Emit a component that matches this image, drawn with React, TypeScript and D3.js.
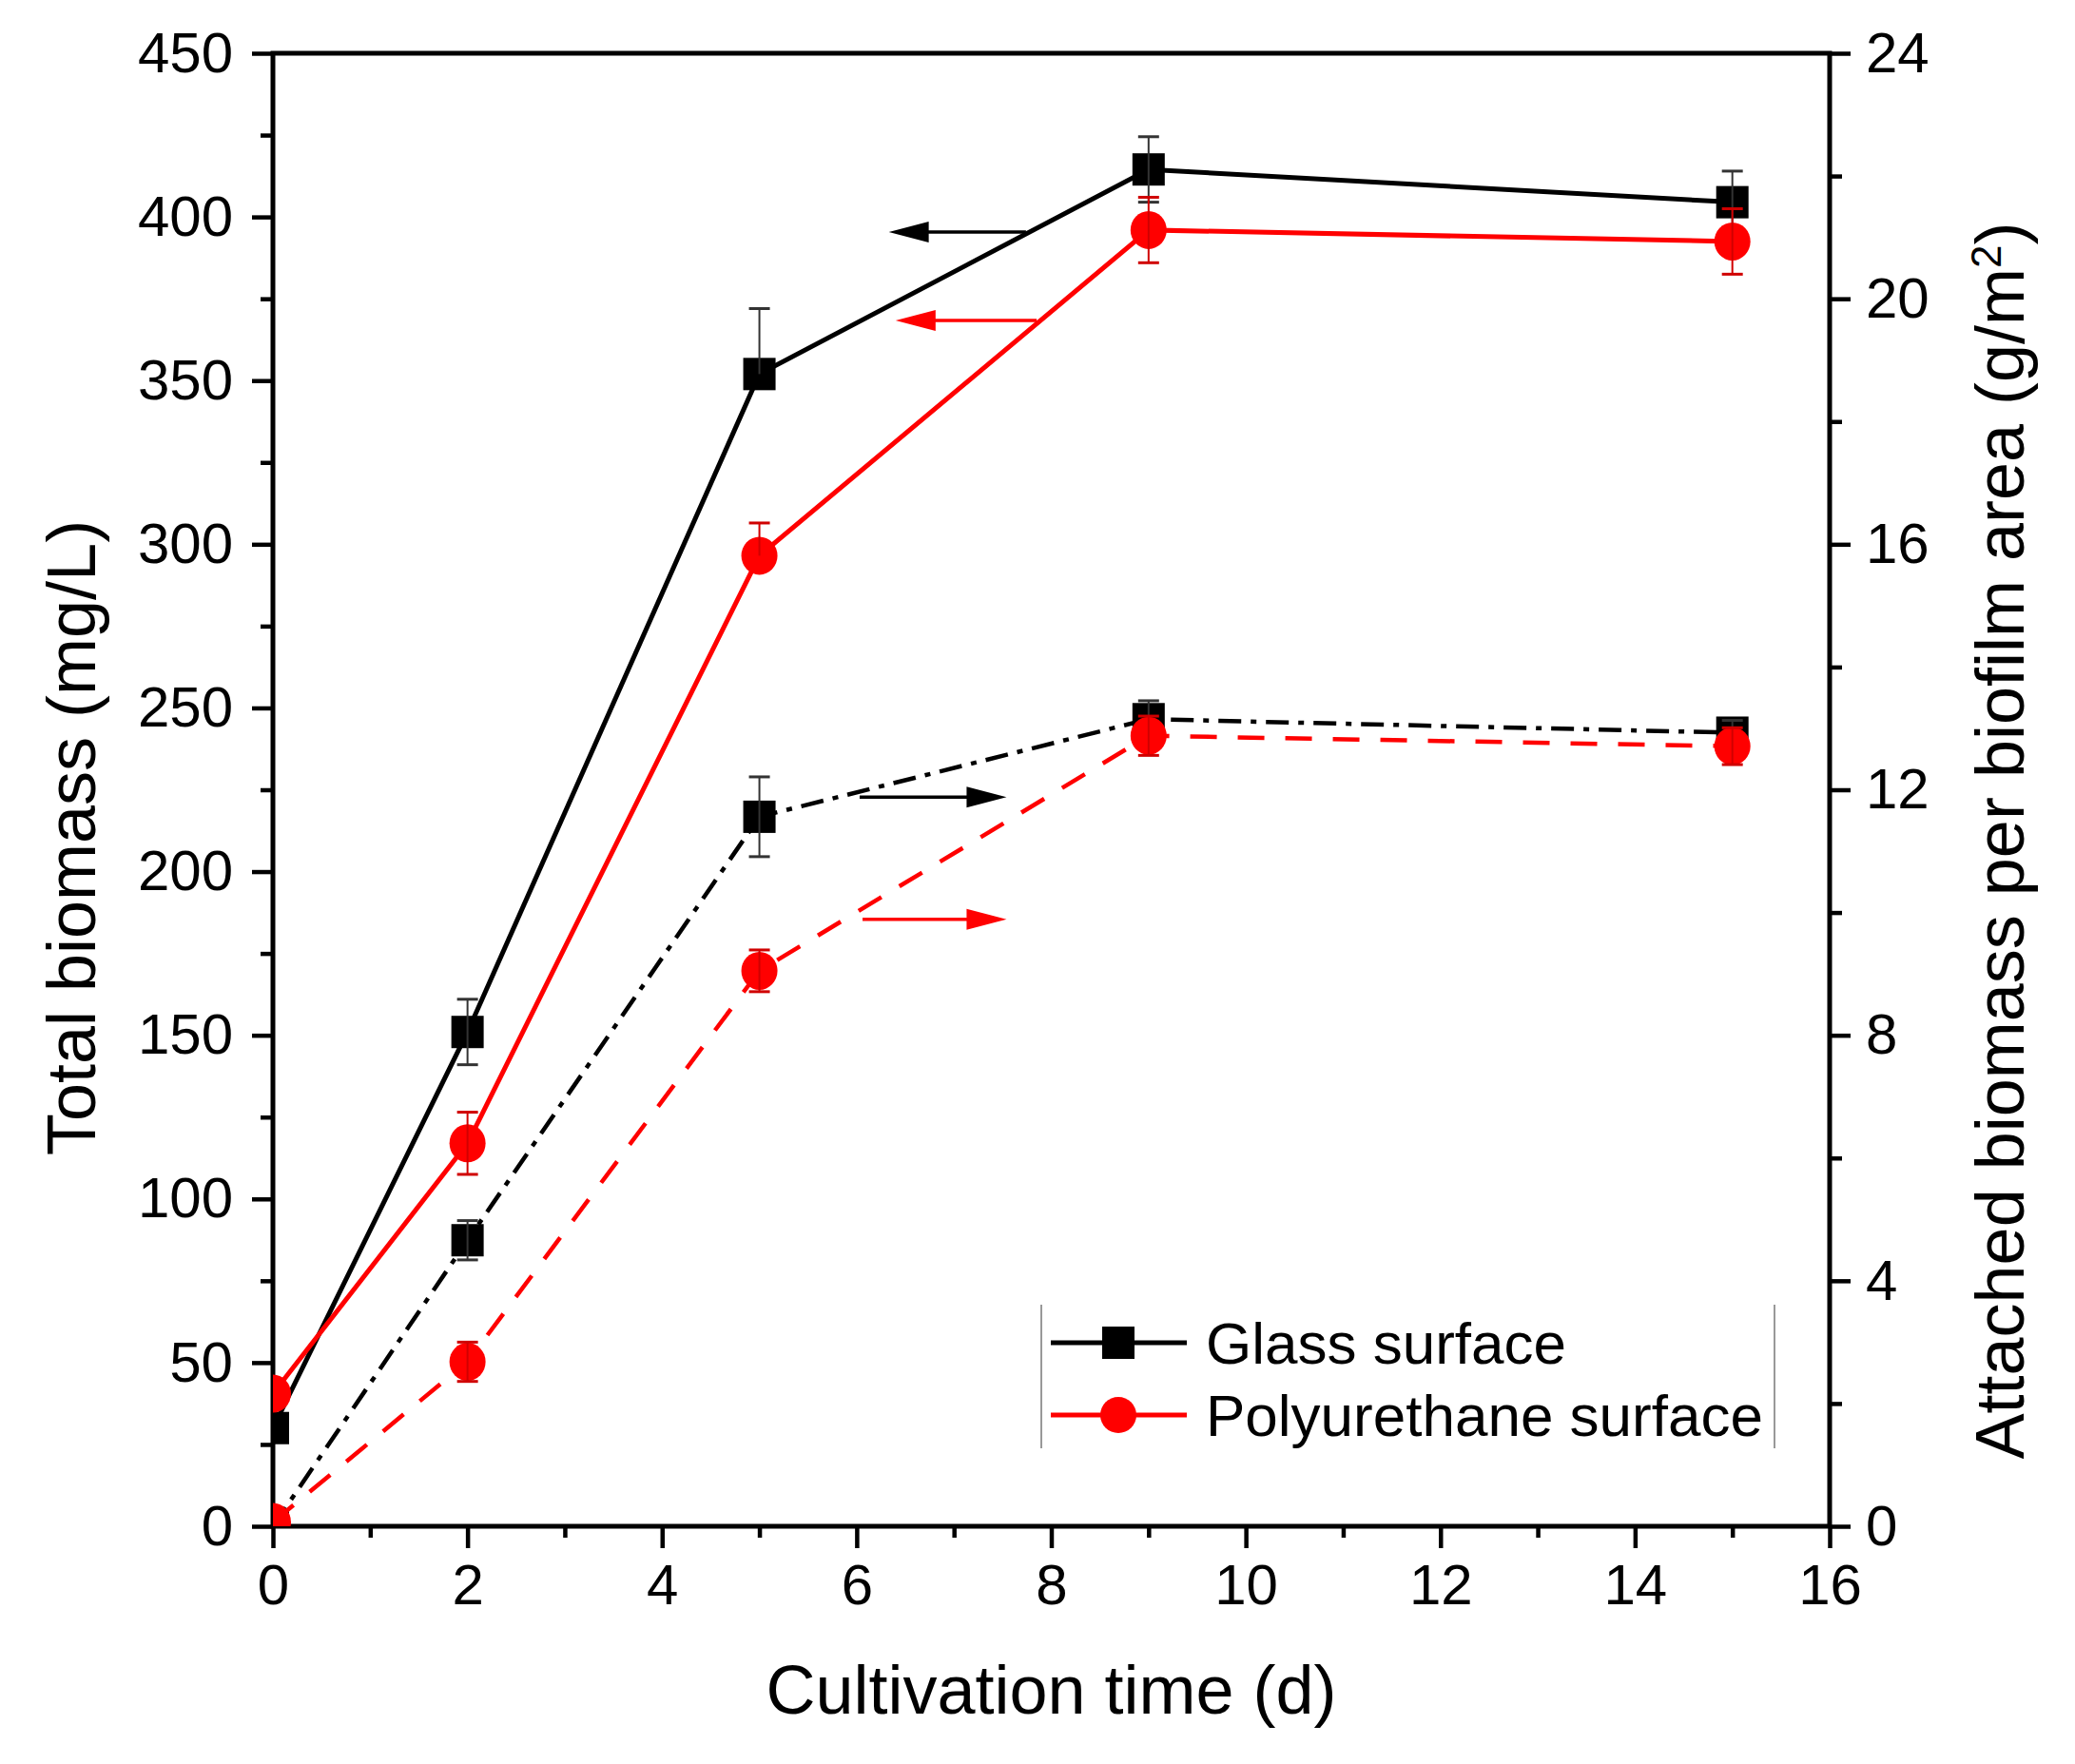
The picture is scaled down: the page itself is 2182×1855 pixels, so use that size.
import { useEffect, useRef } from "react";
import * as d3 from "d3";

// cultivation time (d)
const days = [0, 2, 5, 9, 15];

// total biomass (mg/L), left axis
const glassTotal = [30, 151, 352, 414.5, 404.5];
const glassTotalErrHi = [0, 10, 20, 10, 9.5];
const glassTotalErrLo = [0, 10, 0, 10, 9.5];
const polyTotal = [40.5, 117, 296.5, 396, 392.5];
const polyTotalErrHi = [0, 9.5, 10, 10, 10];
const polyTotalErrLo = [0, 9.5, 0, 10, 10];

// attached biomass (g/m2), right axis
const glassAttached = [0, 4.66, 11.56, 13.15, 12.93];
const glassAttachedErr = [0, 0.32, 0.65, 0.3, 0.2];
const polyAttached = [0.07, 2.68, 9.05, 12.88, 12.71];
const polyAttachedErr = [0, 0.32, 0.34, 0.32, 0.3];

// ticks
const xMajor = [0, 2, 4, 6, 8, 10, 12, 14, 16];
const xMinor = [1, 3, 5, 7, 9, 11, 13, 15];
const yLMajor = [0, 50, 100, 150, 200, 250, 300, 350, 400, 450];
const yLMinor = [25, 75, 125, 175, 225, 275, 325, 375, 425];
const yRMajor = [0, 4, 8, 12, 16, 20, 24];
const yRMinor = [2, 6, 10, 14, 18, 22];

// axis-pointing arrows: left ones on the mg/L scale, right ones on g/m2
const leftArrows = [
  { x0: 7.74, x1: 6.33, y: 395.4, color: "#000" },
  { x0: 7.85, x1: 6.4, y: 368.4, color: "#ff0000" },
];
const rightArrows = [
  { x0: 6.03, x1: 7.54, y: 11.88, color: "#000" },
  { x0: 6.06, x1: 7.54, y: 9.89, color: "#ff0000" },
];

const legendItems = [
  { label: "Glass surface", color: "#000", marker: "square" },
  { label: "Polyurethane surface", color: "#ff0000", marker: "circle" },
];

const W = 2182;
const H = 1855;
const FONT = "'Liberation Sans', Arial, Helvetica, sans-serif";

export default function App() {
  const svgRef = useRef<SVGSVGElement>(null);

  useEffect(() => {
    document.body.style.margin = "0";
    const svg = d3.select(svgRef.current);
    svg.selectAll("*").remove();

    const left = 287, right = 1924, top = 56, bottom = 1605;
    const x = d3.scaleLinear().domain([0, 16]).range([left, right]);
    const yL = d3.scaleLinear().domain([0, 450]).range([bottom, top]);
    const yR = d3.scaleLinear().domain([0, 24]).range([bottom, top]);

    svg.append("rect").attr("width", W).attr("height", H).attr("fill", "#fff");

    svg
      .append("defs")
      .append("clipPath")
      .attr("id", "plot-clip")
      .append("rect")
      .attr("x", left)
      .attr("y", top)
      .attr("width", right - left)
      .attr("height", bottom - top);

    const styleAxis = (g: d3.Selection<SVGGElement, unknown, null, undefined>) => {
      g.select(".domain").remove();
      g.selectAll("line").attr("stroke", "#000").attr("stroke-width", 4.5);
      g.selectAll("text")
        .attr("fill", "#000")
        .style("font-family", FONT)
        .style("font-size", "60px");
    };

    // axes: majors with labels, minors without
    svg.append("g")
      .attr("transform", `translate(0,${bottom})`)
      .call(d3.axisBottom(x).tickValues(xMajor).tickSize(23).tickPadding(16).tickFormat(d3.format("d")))
      .call(styleAxis);
    svg.append("g")
      .attr("transform", `translate(0,${bottom})`)
      .call(d3.axisBottom(x).tickValues(xMinor).tickSize(12).tickFormat(() => ""))
      .call(styleAxis);

    svg.append("g")
      .attr("transform", `translate(${left},0)`)
      .call(d3.axisLeft(yL).tickValues(yLMajor).tickSize(22).tickPadding(20).tickFormat(d3.format("d")))
      .call(styleAxis);
    svg.append("g")
      .attr("transform", `translate(${left},0)`)
      .call(d3.axisLeft(yL).tickValues(yLMinor).tickSize(13).tickFormat(() => ""))
      .call(styleAxis);

    svg.append("g")
      .attr("transform", `translate(${right},0)`)
      .call(d3.axisRight(yR).tickValues(yRMajor).tickSize(22).tickPadding(16).tickFormat(d3.format("d")))
      .call(styleAxis);
    svg.append("g")
      .attr("transform", `translate(${right},0)`)
      .call(d3.axisRight(yR).tickValues(yRMinor).tickSize(13).tickFormat(() => ""))
      .call(styleAxis);

    // frame
    svg.append("rect")
      .attr("x", left)
      .attr("y", top)
      .attr("width", right - left)
      .attr("height", bottom - top)
      .attr("fill", "none")
      .attr("stroke", "#000")
      .attr("stroke-width", 5);

    const plot = svg.append("g").attr("clip-path", "url(#plot-clip)");

    const drawSeries = (
      vals: number[],
      errHi: number[],
      errLo: number[],
      y: d3.ScaleLinear<number, number>,
      color: string,
      dash: string | null,
      marker: string,
      errColor: string
    ) => {
      const pts = days.map((d, i) => ({ d, v: vals[i], hi: errHi[i], lo: errLo[i] }));
      const line = d3.line<(typeof pts)[number]>().x((p) => x(p.d)).y((p) => y(p.v));
      plot.append("path")
        .attr("d", line(pts))
        .attr("fill", "none")
        .attr("stroke", color)
        .attr("stroke-width", dash ? 4.5 : 5)
        .attr("stroke-dasharray", dash);

      if (marker === "square") {
        plot.selectAll(null)
          .data(pts)
          .join("rect")
          .attr("x", (p) => x(p.d) - 17)
          .attr("y", (p) => y(p.v) - 17)
          .attr("width", 34)
          .attr("height", 34)
          .attr("fill", color);
      } else {
        plot.selectAll(null)
          .data(pts)
          .join("ellipse")
          .attr("cx", (p) => x(p.d))
          .attr("cy", (p) => y(p.v))
          .attr("rx", 19)
          .attr("ry", 20)
          .attr("fill", color);
      }

      const eb = plot.append("g").attr("stroke", errColor).attr("stroke-width", 2).attr("fill", "none");
      pts.filter((p) => p.hi > 0 || p.lo > 0).forEach((p) => {
        const cx = x(p.d);
        const yHi = y(p.v + p.hi);
        const yLo = y(p.v - p.lo);
        eb.append("line").attr("x1", cx).attr("x2", cx).attr("y1", yHi).attr("y2", yLo);
        if (p.hi > 0) eb.append("line").attr("x1", cx - 11).attr("x2", cx + 11).attr("y1", yHi).attr("y2", yHi).attr("stroke-width", 3);
        if (p.lo > 0) eb.append("line").attr("x1", cx - 11).attr("x2", cx + 11).attr("y1", yLo).attr("y2", yLo).attr("stroke-width", 3);
      });
    };

    drawSeries(glassTotal, glassTotalErrHi, glassTotalErrLo, yL, "#000", null, "square", "#333");
    drawSeries(polyTotal, polyTotalErrHi, polyTotalErrLo, yL, "#ff0000", null, "circle", "#d00000");
    drawSeries(glassAttached, glassAttachedErr, glassAttachedErr, yR, "#000", "24,10,6,10", "square", "#333");
    drawSeries(polyAttached, polyAttachedErr, polyAttachedErr, yR, "#ff0000", "28,22", "circle", "#d00000");

    // arrows
    const drawArrow = (x0: number, x1: number, yy: number, color: string) => {
      const dir = Math.sign(x1 - x0);
      const head = 42;
      svg.append("line")
        .attr("x1", x0)
        .attr("x2", x1 - dir * head * 0.8)
        .attr("y1", yy)
        .attr("y2", yy)
        .attr("stroke", color)
        .attr("stroke-width", 3.5);
      svg.append("path")
        .attr("d", `M${x1},${yy}L${x1 - dir * head},${yy - 11}L${x1 - dir * head},${yy + 11}Z`)
        .attr("fill", color);
    };
    leftArrows.forEach((a) => drawArrow(x(a.x0), x(a.x1), yL(a.y), a.color));
    rightArrows.forEach((a) => drawArrow(x(a.x0), x(a.x1), yR(a.y), a.color));

    // legend
    const lg = svg.append("g");
    [1095, 1866].forEach((lx) =>
      lg.append("line")
        .attr("x1", lx).attr("x2", lx)
        .attr("y1", 1372).attr("y2", 1523)
        .attr("stroke", "#777").attr("stroke-width", 1.5)
    );
    legendItems.forEach((item, i) => {
      const ly = 1412 + i * 76;
      lg.append("line")
        .attr("x1", 1105).attr("x2", 1248)
        .attr("y1", ly).attr("y2", ly)
        .attr("stroke", item.color).attr("stroke-width", 5);
      if (item.marker === "square") {
        lg.append("rect").attr("x", 1176 - 17).attr("y", ly - 17).attr("width", 34).attr("height", 34).attr("fill", item.color);
      } else {
        lg.append("ellipse").attr("cx", 1176).attr("cy", ly).attr("rx", 19).attr("ry", 19).attr("fill", item.color);
      }
      lg.append("text")
        .attr("x", 1268)
        .attr("y", ly)
        .attr("dy", "0.35em")
        .style("font-family", FONT)
        .style("font-size", "62px")
        .attr("fill", "#000")
        .text(item.label);
    });

    // axis titles
    svg.append("text")
      .attr("x", (left + right) / 2)
      .attr("y", 1802)
      .attr("text-anchor", "middle")
      .style("font-family", FONT)
      .style("font-size", "72px")
      .text("Cultivation time (d)");

    svg.append("text")
      .attr("transform", `translate(100,881) rotate(-90)`)
      .attr("text-anchor", "middle")
      .style("font-family", FONT)
      .style("font-size", "72px")
      .text("Total biomass (mg/L)");

    const rt = svg.append("text")
      .attr("transform", `translate(2128,884) rotate(-90)`)
      .attr("text-anchor", "middle")
      .style("font-family", FONT)
      .style("font-size", "72px");
    rt.append("tspan").text("Attached biomass per biofilm area (g/m");
    rt.append("tspan").attr("baseline-shift", "super").style("font-size", "44px").text("2");
    rt.append("tspan").text(")");
  }, []);

  return <svg ref={svgRef} width={W} height={H} style={{ display: "block" }} />;
}
